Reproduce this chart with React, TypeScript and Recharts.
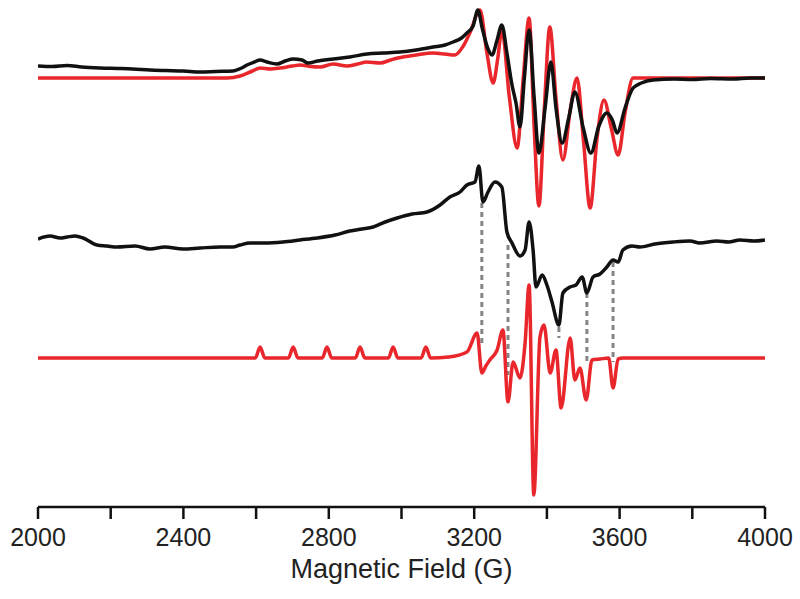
import React from 'react';
import { LineChart, Line, XAxis, YAxis, ReferenceLine } from 'recharts';

// Field (G), intensity relative to each trace's own baseline (arbitrary units)
const topExp: [number, number][] = [
  [2000, 12], [2040, 11.5], [2080, 12.5], [2120, 11], [2171, 10], [2220, 9.5], [2260, 9], [2308, 8],
  [2350, 7.5], [2400, 7], [2446, 6], [2490, 6.5], [2536, 7], [2560, 10], [2575, 13], [2595, 16],
  [2611, 18], [2630, 16], [2657, 14], [2680, 17], [2702, 19], [2726, 18], [2743, 15], [2770, 17],
  [2812, 19], [2858, 21], [2905, 24], [2950, 25], [2996, 26], [3040, 28], [3087, 31], [3120, 33],
  [3142, 36], [3165, 40], [3180, 45], [3197, 52], [3210, 68], [3222, 50], [3237, 30], [3249, 23],
  [3263, 38], [3276, 53], [3290, 25], [3304, -7], [3315, -25], [3326, -49], [3338, 0], [3351, 48],
  [3365, -20], [3378, -75], [3395, -30], [3411, 16], [3425, -30], [3442, -65], [3460, -40], [3477, -14],
  [3500, -50], [3521, -75], [3543, -48], [3565, -35], [3580, -42], [3593, -55], [3615, -30], [3637, -10],
  [3660, -5], [3692, -2], [3750, -1], [3800, -1.5], [3850, -0.5], [3912, -1], [3960, 0], [4000, 0],
];

const topSim: [number, number][] = [
  [2000, 0], [2520, 0], [2556, 2], [2590, 7], [2611, 10], [2640, 9], [2666, 10], [2700, 12], [2721, 13],
  [2750, 11.5], [2776, 11], [2812, 14], [2850, 12], [2880, 14], [2905, 16], [2941, 15], [2970, 18],
  [2990, 20], [3040, 23], [3087, 25], [3120, 24], [3147, 23], [3170, 32], [3188, 45], [3216, 68],
  [3235, 25], [3252, -5], [3265, 20], [3276, 48], [3297, -20], [3318, -70], [3335, 0], [3351, 60],
  [3365, -50], [3378, -128], [3393, -30], [3408, 51], [3425, -20], [3444, -82], [3465, -30], [3483, 0],
  [3500, -60], [3519, -130], [3538, -60], [3557, -22], [3577, -50], [3596, -77], [3615, -35], [3637, 0],
  [4000, 0],
];

const midExp: [number, number][] = [
  [2000, 1], [2033, 4], [2061, 2], [2080, 3], [2102, 4], [2124, 2], [2162, -5], [2190, -6], [2217, -7],
  [2267, -6], [2308, -9], [2349, -7], [2399, -9], [2446, -8], [2501, -7], [2536, -7], [2556, -5],
  [2583, -3], [2624, -3], [2674, -2], [2721, 0], [2768, 2], [2817, 5], [2858, 9], [2891, 11], [2922, 13],
  [2955, 18], [2988, 22], [3029, 26], [3070, 28], [3106, 35], [3133, 43], [3161, 48], [3180, 55],
  [3202, 58], [3213, 74], [3224, 38], [3238, 48], [3257, 58], [3276, 53], [3290, 8], [3304, -3],
  [3326, -16], [3340, -10], [3351, 18], [3362, -10], [3370, -47], [3387, -35], [3400, -45], [3414, -62],
  [3433, -85], [3444, -53], [3464, -47], [3480, -45], [3497, -37], [3510, -53], [3527, -37], [3546, -34],
  [3565, -27], [3582, -20], [3596, -22], [3609, -10], [3634, -6], [3656, -7], [3697, -4], [3747, -2],
  [3794, -1], [3820, -3], [3868, -1], [3900, -2], [3931, 0], [3970, -1], [4000, 0],
];

const botSim: [number, number][] = [
  [2000, 0], [2598, 0], [2611, 11], [2624, 0], [2689, 0], [2702, 11], [2715, 0], [2782, 0], [2795, 11],
  [2808, 0], [2873, 0], [2886, 11], [2899, 0], [2964, 0], [2977, 11], [2990, 0], [3054, 0], [3067, 11],
  [3080, 0], [3130, 1], [3180, 6], [3208, 25], [3221, -15], [3232, -8], [3243, -2], [3263, 8], [3279, 28],
  [3293, -44], [3307, -4], [3326, -20], [3340, 15], [3351, 73], [3364, -137], [3381, 21], [3392, 33],
  [3409, -15], [3425, 8], [3439, -50], [3464, 20], [3477, -22], [3491, -10], [3508, -42], [3524, -2],
  [3546, -1], [3570, 0], [3582, -30], [3596, -1], [3610, 0], [4000, 0],
];

// Dashed guide lines: field, upper end, lower end (plot units)
const guideFields = [3221, 3293, 3433, 3510, 3582];
const guideTop = [304, 262, 180, 214, 245];
const guideBottom = [162, 132, 169, 145, 145];

const xTicks = [2000, 2200, 2400, 2600, 2800, 3000, 3200, 3400, 3600, 3800, 4000];

const OFFSET_TOP = 429;
const OFFSET_MID = 267;
const OFFSET_BOT = 149;

const toSeries = (arr: [number, number][], off: number) => arr.map(([x, y]) => ({ x, y: y + off }));

const RED = '#e8262b';
const BLACK = '#111111';
const FONT = '"Liberation Sans", Arial, Helvetica, sans-serif';

export default function App() {
  return (
    <div style={{ position: 'absolute', left: 0, top: 0, width: 800, height: 599, background: '#fff' }}>
      <LineChart width={800} height={599} margin={{ top: 7, right: 35, bottom: 0, left: 38 }}>
        <XAxis
          type="number"
          dataKey="x"
          domain={[2000, 4000]}
          ticks={xTicks}
          interval={0}
          allowDataOverflow
          tickFormatter={(v: number) => (v % 400 === 0 ? String(v) : '')}
          tickSize={12}
          tickMargin={9}
          height={92}
          axisLine={{ stroke: BLACK, strokeWidth: 2.5 }}
          tickLine={{ stroke: BLACK, strokeWidth: 2.5 }}
          tick={{ fontSize: 25, fill: '#222', fontFamily: FONT }}
          label={{ value: 'Magnetic Field (G)', position: 'insideBottom', offset: 21, fontSize: 27, fill: '#222', fontFamily: FONT }}
        />
        <YAxis type="number" domain={[0, 500]} hide allowDataOverflow />
        {guideFields.map((g, i) => (
          <ReferenceLine
            key={g}
            segment={[{ x: g, y: guideTop[i] }, { x: g, y: guideBottom[i] }]}
            stroke="#858585"
            strokeWidth={3}
            strokeDasharray="5 4"
          />
        ))}
        <Line data={toSeries(topSim, OFFSET_TOP)} dataKey="y" type="monotone" stroke={RED} strokeWidth={3.5} dot={false} isAnimationActive={false} />
        <Line data={toSeries(topExp, OFFSET_TOP)} dataKey="y" type="monotone" stroke={BLACK} strokeWidth={3.5} dot={false} isAnimationActive={false} />
        <Line data={toSeries(midExp, OFFSET_MID)} dataKey="y" type="monotone" stroke={BLACK} strokeWidth={3.5} dot={false} isAnimationActive={false} />
        <Line data={toSeries(botSim, OFFSET_BOT)} dataKey="y" type="monotone" stroke={RED} strokeWidth={3.5} dot={false} isAnimationActive={false} />
      </LineChart>
    </div>
  );
}
